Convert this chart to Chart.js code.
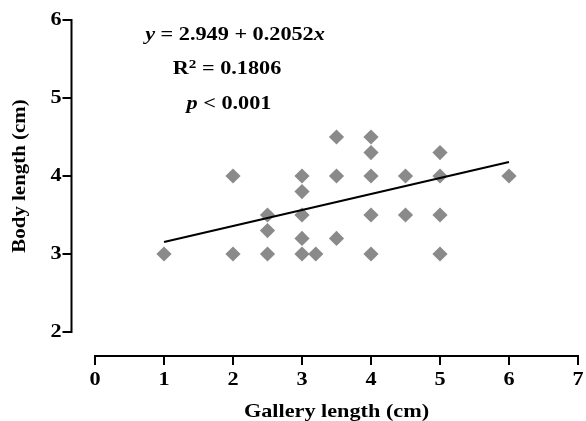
<!DOCTYPE html>
<html>
<head>
<meta charset="utf-8">
<script src="https://cdn.jsdelivr.net/npm/chart.js@4.4.1/dist/chart.umd.min.js"></script>
<style>
  html, body { margin: 0; padding: 0; background: #fff; }
</style>
</head>
<body>
<canvas id="myChart" width="586" height="421"></canvas>
<script>
// data
const galleryLength = [1, 2, 2, 2.5, 2.5, 2.5, 3, 3, 3, 3, 3, 3.2, 3.5, 3.5, 3.5, 4, 4, 4, 4, 4, 4.5, 4.5, 5, 5, 5, 5, 6];
const bodyLength    = [3, 4, 3, 3.5, 3.3, 3, 4, 3.8, 3.5, 3.2, 3, 3, 4.5, 4, 3.2, 4.5, 4.3, 4, 3.5, 3, 4, 3.5, 4.3, 4, 3.5, 3, 4];

// regression line end points
const fitX = [1, 6];
const fitY = [3.154, 4.180];

const xTicks = [0, 1, 2, 3, 4, 5, 6, 7];
const yTicks = [2, 3, 4, 5, 6];

const serif = "'Liberation Serif', 'Times New Roman', serif";
const stretch = 1.17; // the figure font is wider than Times

// text drawn with a horizontal stretch so it matches the wide figure font
function stretchText(ctx, str, x, y, font, align, baseline, sx, rot) {
    ctx.save();
    ctx.font = font;
    ctx.textAlign = align;
    ctx.textBaseline = baseline;
    ctx.translate(x, y);
    if (rot) ctx.rotate(rot);
    ctx.scale(sx, 1);
    ctx.fillText(str, 0, 0);
    ctx.restore();
}

const offsetAxes = {
    id: 'offsetAxes',
    afterDraw(chart) {
        const ctx = chart.ctx;
        const xs = chart.scales.x, ys = chart.scales.y;
        const area = chart.chartArea;
        const axX = area.left - 23.5;
        const axY = area.bottom + 24;
        const tickFont = 'bold 19px ' + serif;
        ctx.save();
        ctx.strokeStyle = '#000';
        ctx.fillStyle = '#000';
        ctx.lineWidth = 2;
        ctx.lineCap = 'square';
        // y axis
        ctx.beginPath();
        ctx.moveTo(axX, ys.getPixelForValue(6));
        ctx.lineTo(axX, ys.getPixelForValue(2));
        yTicks.forEach(v => {
            const p = ys.getPixelForValue(v);
            ctx.moveTo(axX - 8, p);
            ctx.lineTo(axX, p);
        });
        ctx.stroke();
        yTicks.forEach(v => {
            stretchText(ctx, String(v), axX - 10, ys.getPixelForValue(v), tickFont, 'right', 'middle', stretch);
        });
        // x axis
        ctx.beginPath();
        ctx.moveTo(xs.getPixelForValue(0), axY);
        ctx.lineTo(xs.getPixelForValue(7), axY);
        xTicks.forEach(v => {
            const p = xs.getPixelForValue(v);
            ctx.moveTo(p, axY);
            ctx.lineTo(p, axY + 8);
        });
        ctx.stroke();
        xTicks.forEach(v => {
            stretchText(ctx, String(v), xs.getPixelForValue(v), axY + 24, tickFont, 'center', 'middle', stretch);
        });

        // axis titles
        stretchText(ctx, 'Gallery length (cm)', (area.left + area.right) / 2, 417, tickFont, 'center', 'alphabetic', stretch);
        stretchText(ctx, 'Body length (cm)', 25, (area.top + area.bottom) / 2, tickFont, 'center', 'alphabetic', 1.1, -Math.PI / 2);

        // equation block
        const bold = 'bold 19px ' + serif;
        const boldIt = 'italic bold 19px ' + serif;
        const small = 'bold 13px ' + serif;
        const drawRow = (parts, cx, y) => {
            let w = 0;
            parts.forEach(p => { ctx.font = p[1]; w += ctx.measureText(p[0]).width * stretch; });
            let x = cx - w / 2;
            parts.forEach(p => {
                stretchText(ctx, p[0], x, y + (p[2] || 0), p[1], 'left', 'alphabetic', stretch);
                ctx.font = p[1];
                x += ctx.measureText(p[0]).width * stretch;
            });
        };
        drawRow([['y', boldIt], [' = 2.949 + 0.2052', bold], ['x', boldIt]], 235, 39.5);
        drawRow([['R', bold], ['2', small, -6], [' = 0.1806', bold]], 227, 74);
        drawRow([['p', boldIt], [' < 0.001', bold]], 229, 109);
        ctx.restore();
    }
};

const ctx = document.getElementById('myChart').getContext('2d');
new Chart(ctx, {
    type: 'scatter',
    data: {
        datasets: [{
            type: 'line',
            label: 'fit',
            data: fitX.map((x, i) => ({ x: x, y: fitY[i] })),
            borderColor: '#000',
            borderWidth: 2.2,
            pointRadius: 0,
            fill: false,
            order: 0
        }, {
            label: 'Body length',
            data: galleryLength.map((x, i) => ({ x: x, y: bodyLength[i] })),
            pointStyle: 'rectRot',
            pointRadius: 7.6,
            pointBorderWidth: 0,
            backgroundColor: '#8a8a8a',
            borderColor: 'rgba(0,0,0,0)',
            order: 1
        }]
    },
    options: {
        responsive: false,
        animation: false,
        layout: { padding: { top: 20, right: 8, left: 0, bottom: 0 } },
        plugins: { legend: { display: false }, tooltip: { enabled: false } },
        scales: {
            x: {
                type: 'linear',
                min: 0, max: 7,
                afterFit: s => { s.height = 89; },
                afterBuildTicks: s => { s.ticks = xTicks.map(v => ({ value: v })); },
                grid: { display: false },
                border: { display: false },
                ticks: { display: false }
            },
            y: {
                min: 2, max: 6,
                afterFit: s => { s.width = 95; },
                afterBuildTicks: s => { s.ticks = yTicks.map(v => ({ value: v })); },
                grid: { display: false },
                border: { display: false },
                ticks: { display: false }
            }
        }
    },
    plugins: [offsetAxes]
});
</script>
</body>
</html>
